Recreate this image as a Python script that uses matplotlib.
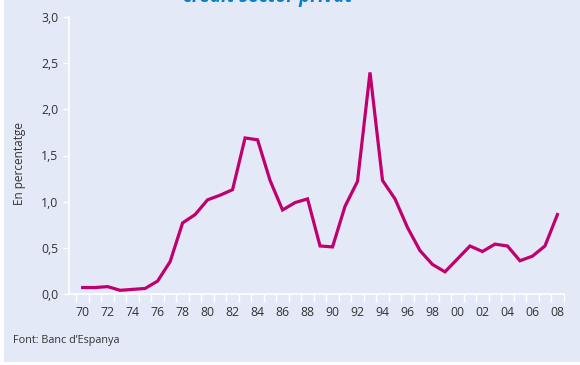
"""
Credit sector privat - reproduccio del grafic (Banc d'Espanya).
"""

import matplotlib.pyplot as plt
from matplotlib.ticker import FixedLocator, FuncFormatter
from matplotlib.patches import Rectangle

# Dades (llegides del grafic)
years = list(range(1970, 2009))
values = [0.07, 0.07, 0.08, 0.04, 0.05, 0.06, 0.14, 0.35, 0.77, 0.86,
          1.02, 1.07, 1.13, 1.69, 1.67, 1.23, 0.91, 0.99, 1.03, 0.52,
          0.51, 0.95, 1.22, 2.40, 1.23, 1.03, 0.72, 0.47, 0.32, 0.24,
          0.38, 0.52, 0.46, 0.54, 0.52, 0.36, 0.41, 0.52, 0.86]
tick_years = list(range(1970, 2009, 2))
y_ticks = [0.0, 0.5, 1.0, 1.5, 2.0, 2.5, 3.0]

title = 'crèdit sector privat'
y_label = 'En percentatge'
source = 'Font: Banc d’Espanya'

BG = '#e3e9f6'
LINE = '#c0006e'
TEXT = '#333333'
FONT = ['Open Sans', 'DejaVu Sans']

plt.rcParams['font.family'] = FONT

fig = plt.figure(figsize=(5.8, 3.65), dpi=100)
fig.patch.set_facecolor('white')
fig.patches.append(Rectangle((4 / 580, 3 / 365), 1, 1, transform=fig.transFigure,
                             facecolor=BG, edgecolor='none', zorder=-10))

ax = fig.add_axes([68.9 / 580, 71 / 365, (564.3 - 68.9) / 580, (348 - 71) / 365])
ax.set_facecolor(BG)
ax.patch.set_alpha(0)

ax.plot(years, values, color=LINE, lw=2.3, solid_joinstyle='miter', clip_on=False)

ax.set_xlim(1968.9, 2008.55)
ax.set_ylim(0, 3.0)

for side in ['top', 'right']:
    ax.spines[side].set_visible(False)
for side in ['left', 'bottom']:
    ax.spines[side].set_color('white')
    ax.spines[side].set_linewidth(1.2)

# eix x: etiquetes als anys parells, marques entre anys
ax.xaxis.set_major_locator(FixedLocator(tick_years))
ax.xaxis.set_major_formatter(FuncFormatter(lambda v, p: '%02d' % (int(round(v)) % 100)))
ax.xaxis.set_minor_locator(FixedLocator([y - 0.5 for y in years] + [2008.5]))
ax.tick_params(axis='x', which='major', length=0, pad=9, labelsize=8.8, labelcolor=TEXT)
ax.tick_params(axis='x', which='minor', length=6, width=1, color='white', direction='out')

ax.yaxis.set_major_locator(FixedLocator(y_ticks))
ax.yaxis.set_major_formatter(FuncFormatter(lambda v, p: ('%.1f' % v).replace('.', ',')))
ax.tick_params(axis='y', length=4, width=1, color='white', pad=3.5,
               labelsize=8.8, labelcolor=TEXT)

fig.text(20 / 580, 1 - 163 / 365, y_label, rotation=90, ha='center', va='center',
         fontsize=8.5, color=TEXT)
fig.text(268 / 580, 1 - 2 / 365, title, ha='center', va='baseline',
         fontsize=13.5, fontweight='bold', style='italic', color='#0b7fc3')
fig.text(13 / 580, 1 - 341 / 365, source, ha='left', va='center',
         fontsize=7.8, color=TEXT)

fig.savefig('out.png', dpi=100, facecolor=fig.get_facecolor())
